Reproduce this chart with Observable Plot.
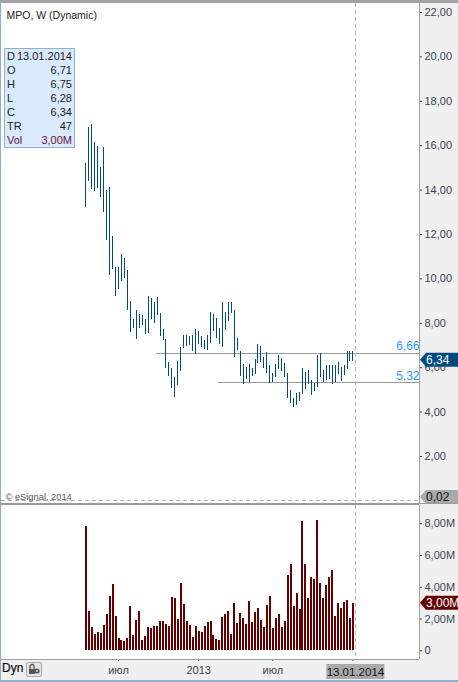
<!DOCTYPE html>
<html><head><meta charset="utf-8">
<script src="https://cdn.jsdelivr.net/npm/d3@7"></script>
<script src="https://cdn.jsdelivr.net/npm/@observablehq/plot@0.6"></script>
<style>
html,body{margin:0;padding:0;background:#f0f0f0;width:458px;height:682px;overflow:hidden;font-family:"Liberation Sans",Arial,sans-serif}
#root{position:relative;width:458px;height:682px;overflow:hidden}
#root svg{position:absolute;left:0;background:transparent;overflow:visible}
.abs{position:absolute}
#legend{left:4px;top:48px;width:69px;height:98px;background:#d9eafc;border:1px solid #8fb1d6;font-size:11px;line-height:14px;color:#222}
#legend div{display:flex;justify-content:space-between;padding:0 2px 0 2px;height:14px;white-space:nowrap}
</style></head><body><div id="root"></div>
<script>
const firstWeek = new Date(Date.UTC(2012, 3, 23));
const xDomain = [new Date(Date.UTC(2011, 9, 7)), new Date(Date.UTC(2014, 5, 19))];
const high = [15.21,16.83,16.95,16.14,15.96,15.03,15.92,13.98,14.12,11.91,10.53,10.53,11.10,10.92,10.38,8.98,8.17,8.58,8.40,8.35,8.17,9.21,9.12,8.94,9.16,8.44,7.72,7.27,6.23,5.96,5.56,6.28,6.91,7.45,7.45,7.40,7.45,7.72,7.63,7.40,7.22,7.45,8.49,8.40,8.22,7.77,8.94,8.49,8.94,8.94,8.58,7.31,6.73,6.14,6.01,6.14,5.96,6.37,7.04,6.95,6.46,6.68,6.10,5.74,6.14,6.55,6.41,6.19,5.74,4.97,4.61,4.84,4.88,5.96,5.78,5.87,5.42,5.29,6.55,6.64,5.87,6.10,6.10,6.10,6.10,6.23,6.01,6.10,6.73,6.73,6.75];
const low = [13.23,14.40,14.03,13.95,14.09,13.68,13.00,11.74,10.17,10.44,9.22,9.54,9.90,10.03,8.58,7.60,7.78,7.27,7.77,7.90,7.49,7.54,8.17,7.99,8.35,7.40,7.22,5.96,5.60,5.06,4.66,5.20,5.83,6.86,6.95,7.00,6.73,6.59,7.04,6.91,6.82,6.77,7.09,7.63,7.31,7.04,6.91,7.68,8.08,8.44,6.46,6.77,5.60,5.24,5.47,5.33,5.60,5.69,6.19,6.23,5.96,5.74,5.29,5.33,5.56,5.92,5.83,5.56,4.61,4.39,4.21,4.30,4.48,4.79,5.02,5.24,4.75,4.93,5.11,5.56,5.33,5.42,5.47,5.24,5.33,5.69,5.38,5.65,5.92,6.28,6.28];
const volume = [7.82,2.46,1.45,1.01,1.13,1.07,1.58,2.27,3.40,4.16,2.14,0.76,0.63,0.57,0.76,2.77,0.95,1.89,2.46,0.63,0.88,1.45,1.39,1.51,1.51,1.83,1.83,1.64,1.51,3.34,3.28,1.95,4.22,2.90,1.83,1.58,0.82,1.51,1.20,1.13,1.51,1.76,1.83,0.95,0.69,0.63,2.08,2.27,2.46,1.01,2.96,1.70,2.33,2.02,1.64,3.09,1.76,2.39,2.65,1.89,1.45,2.84,3.40,1.39,2.02,2.27,1.45,1.83,4.73,5.42,2.77,3.59,2.58,8.13,5.42,3.28,4.60,4.47,8.19,4.22,3.28,4.10,4.60,5.04,2.14,2.96,2.65,3.03,3.15,2.02,3.00];
const dates = high.map((_, i) => d3.utcDay.offset(firstWeek, 7 * i));
const priceTicks = [2,4,6,8,10,12,14,16,18,20,22];
const volumeTicks = [0,2,4,6,8];
const xTickDates = [new Date(Date.UTC(2012,6,9)), new Date(Date.UTC(2013,0,14)), new Date(Date.UTC(2013,6,8)), new Date(Date.UTC(2014,0,13))];
const xTickLabels = ["июл","2013","июл",""];
const cursorDate = new Date(Date.UTC(2014,0,20));
const levels = [6.66, 5.32];
const levelStarts = [new Date(Date.UTC(2012,9,7)), new Date(Date.UTC(2013,2,2))];
const levelLabels = ["6,66","5,32"];
const legendKeys = ["D","O","H","L","C","TR","Vol"];
const legendVals = ["13.01.2014","6,71","6,75","6,28","6,34","47","3,00M"];
const idx = high.map((_, i) => i);

const BLUE = "#004a80", RED = "#660000", GRID = "#a0a0a0", DASH = "#b4b4b4", AXT = "#3a4450";
const commonStyle = {fontFamily:'"Liberation Sans",Arial,sans-serif', fontSize:"11px", background:"transparent"};

// value tag with an arrow tip on the right-hand axis
const tag = (value, fill, label, color, dy = 0) => (index, {y}) => {
  const c = y(value) + dy;
  const g = d3.create("svg:g");
  g.append("path").attr("fill", fill).attr("d", `M420,${c}L426,${c-7}L458,${c-7}L458,${c+7}L426,${c+7}Z`);
  g.append("text").attr("x", 426).attr("y", c + 4).attr("text-anchor","start").attr("fill", color).attr("font-size", 12).text(label);
  return g.node();
};

const price = Plot.plot({
  width:458, height:504, marginTop:3, marginBottom:1, marginLeft:1, marginRight:39,
  style:commonStyle,
  x:{type:"utc", domain:xDomain, axis:null},
  y:{domain:[-0.118,22.405], axis:null},
  marks:[
    Plot.frame({fill:"white"}),
    Plot.axisY({anchor:"right", ticks:priceTicks, tickFormat:d=>d3.format(".2f")(d).replace(".",","), tickSize:2, tickPadding:3, label:null, color:AXT}),
    Plot.ruleX([xDomain[1]],{stroke:GRID}),
    Plot.ruleY(levels,{y:d=>d, x1:(d,i)=>levelStarts[i], x2:()=>xDomain[1], stroke:"#999", strokeWidth:1, shapeRendering:"crispEdges"}),
    Plot.text(levels,{y:d=>d, x:()=>xDomain[1], text:(d,i)=>levelLabels[i], textAnchor:"end", dy:-7, fill:"#3399ff", fontSize:12}),
    Plot.ruleX(idx,{x:i=>dates[i], y1:i=>low[i], y2:i=>high[i], stroke:BLUE, strokeWidth:1, shapeRendering:"crispEdges"}),
    Plot.ruleX([cursorDate],{stroke:DASH, strokeDasharray:"4,3", shapeRendering:"crispEdges"}),
    Plot.ruleY([0.02],{stroke:DASH, strokeDasharray:"4,3", shapeRendering:"crispEdges"}),
    Plot.text(["© eSignal, 2014"],{frameAnchor:"bottom-left", dx:4, dy:-4, fill:"#555", fontSize:9.3}),
    Plot.text(["MPO, W (Dynamic)"],{frameAnchor:"top-left", dx:5, dy:8, fill:"#222", fontSize:10.5}),
    tag(6.34, BLUE, "6,34", "#fff"),
    tag(0.02, "#a9a9a9", "0,02", "#111", -3)
  ]
});
price.style.top = "0px";

const vol = Plot.plot({
  width:458, height:178, marginTop:1, marginBottom:23, marginLeft:1, marginRight:39,
  style:commonStyle,
  x:{type:"utc", domain:xDomain, axis:null},
  y:{domain:[-0.55,9.15], axis:null},
  marks:[
    Plot.frame({fill:"white"}),
    Plot.axisY({anchor:"right", ticks:volumeTicks, tickFormat:d=>d===0?"0":d3.format(".2f")(d).replace(".",",")+"M", tickSize:2, tickPadding:3, label:null, color:AXT}),
    Plot.axisX({anchor:"bottom", ticks:xTickDates, tickFormat:d=>xTickLabels[xTickDates.findIndex(t=>+t===+d)], tickSize:2, tickPadding:5, label:null, color:"#444"}),
    Plot.ruleX([xDomain[1]],{stroke:GRID}),
    Plot.ruleY([-0.55],{stroke:GRID, shapeRendering:"crispEdges"}),
    Plot.ruleX(idx,{x:i=>dates[i], y:i=>volume[i], stroke:RED, strokeWidth:2, shapeRendering:"crispEdges"}),
    Plot.ruleX([cursorDate],{stroke:DASH, strokeDasharray:"4,3", shapeRendering:"crispEdges"}),
    tag(3.00, RED, "3,00M", "#fff"),
    (index, {x}) => {
      const c = x(cursorDate);
      const g = d3.create("svg:g");
      g.append("rect").attr("x", c-29).attr("y", 160).attr("width", 58).attr("height", 15).attr("fill", "#aaa");
      g.append("text").attr("x", c).attr("y", 171.5).attr("text-anchor","middle").attr("fill","#111").attr("font-size",11.5).text("13.01.2014");
      return g.node();
    }
  ]
});
vol.style.top = "504px";

const root = document.getElementById("root");
root.append(price, vol);

const add = (html, css, cls="abs") => { const d = document.createElement("div"); d.className = cls; d.style.cssText = css; d.innerHTML = html; root.append(d); return d; };
add("", "left:0;top:0;width:458px;height:3px;background:#a3a3a3");
add("", "left:0;top:3px;width:1px;height:677px;background:#8fb0cc");
add("", "left:0;top:503px;width:419px;height:2px;background:#999");
add("", "left:419px;top:503px;width:39px;height:1px;background:#999");
add("", "left:0;top:680px;width:458px;height:2px;background:#8fb0cc");

const legend = add(legendKeys.map((k,i)=>`<div style="${k==="Vol"?"color:#6a1040":""}"><span>${k}</span><span>${legendVals[i]}</span></div>`).join(""), "", "abs");
legend.id = "legend";

add("Dyn", "left:2px;top:661px;font-size:12px;font-weight:500;color:#111;-webkit-text-stroke:0.2px #111");
add(`<svg width="14" height="12" viewBox="0 0 14 12" style="position:static"><path d="M3 6V3.5a2 2 0 0 1 4 0V6" fill="none" stroke="#555" stroke-width="1.3"/><rect x="2" y="6" width="6" height="5" fill="#555"/><circle cx="10" cy="8" r="2.6" fill="#555"/><circle cx="10" cy="8" r="1" fill="#ddd"/></svg>`,
  "left:26px;top:662px;width:14px;height:13px;border:1px solid #aaa;border-radius:2px;background:#e4e4e4;line-height:0;");
</script></body></html>
